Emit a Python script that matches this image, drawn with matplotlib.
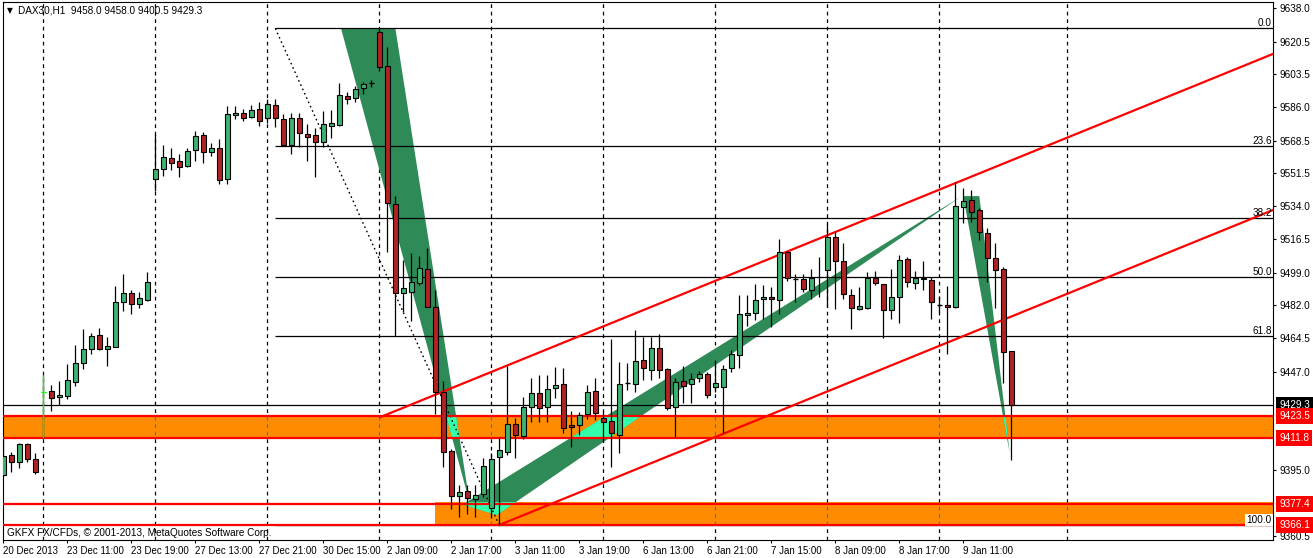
import numpy as np
import matplotlib.pyplot as plt
from matplotlib.patches import Polygon, Rectangle

plt.rcParams['font.family'] = ['Liberation Sans', 'DejaVu Sans']
plt.rcParams['font.size'] = 7.2

# DAX30 H1 candles, bar 0 = 20 Dec 2013 (last bar = 9 Jan)
opens = [9392.8, 9403.1, 9399.3, 9408.9, 9400.9, 9436.4, 9436.9, 9433.5, 9434.3, 9441.7,
         9451.3, 9458.7, 9466.1, 9458.7, 9460.1, 9483.4, 9488.2, 9482.4, 9484.8, 9548.4,
         9553.4, 9559.2, 9557.6, 9555.0, 9563.4, 9571.3, 9562.3, 9564.4, 9548.1, 9582.1,
         9582.8, 9580.7, 9585.1, 9580.2, 9587.1, 9579.7, 9566.3, 9580.2, 9571.8, 9571.3,
         9567.6, 9576.0, 9576.5, 9591.8, 9590.7, 9596.0, 9598.6, 9625.5, 9607.6, 9535.1,
         9488.5, 9488.7, 9493.4, 9500.8, 9480.8, 9436.4, 9405.2, 9381.4, 9384.0, 9379.8,
         9382.6, 9375.2, 9401.9, 9404.5, 9419.4, 9413.1, 9428.2, 9435.6, 9428.5, 9438.1,
         9440.5, 9418.9, 9418.9, 9424.5, 9436.8, 9422.4, 9421.2, 9413.6, 9440.8, 9440.5,
         9452.9, 9447.8, 9459.2, 9448.2, 9428.5, 9442.2, 9440.3, 9443.5, 9445.7, 9438.7,
         9439.0, 9448.7, 9455.7, 9476.6, 9477.6, 9485.0, 9486.1, 9484.6, 9509.7, 9495.8,
         9495.5, 9489.9, 9496.5, 9500.4, 9517.9, 9505.2, 9487.1, 9479.8, 9480.6, 9496.2,
         9492.9, 9479.4, 9486.4, 9506.1, 9493.4, 9495.5, 9495.2, 9482.0, 9482.0, 9480.8,
         9533.4, 9537.2, 9532.0, 9519.7, 9506.6, 9500.8, 9458.0]
highs = [9411.5, 9404.9, 9409.6, 9409.2, 9404.3, 9445.2, 9439.9, 9442.0, 9451.0, 9461.0,
         9469.4, 9467.1, 9470.1, 9465.2, 9492.0, 9498.3, 9489.9, 9488.9, 9499.4, 9571.8,
         9566.2, 9564.6, 9561.4, 9564.8, 9573.5, 9573.0, 9567.1, 9569.5, 9586.7, 9586.7,
         9585.0, 9587.4, 9589.0, 9590.5, 9590.4, 9582.3, 9582.8, 9582.8, 9577.2, 9575.1,
         9583.9, 9584.6, 9598.8, 9594.2, 9597.1, 9599.5, 9600.4, 9627.5, 9617.6, 9539.3,
         9505.7, 9509.2, 9507.8, 9511.8, 9489.9, 9442.0, 9406.3, 9387.3, 9387.3, 9387.3,
         9401.4, 9404.2, 9412.7, 9449.9, 9422.8, 9433.8, 9443.5, 9445.2, 9445.2, 9449.6,
         9448.7, 9426.3, 9425.9, 9439.9, 9443.5, 9425.7, 9464.0, 9452.0, 9451.3, 9468.9,
         9465.3, 9465.3, 9466.6, 9448.9, 9443.5, 9450.1, 9446.4, 9447.3, 9446.8, 9453.1,
         9450.5, 9458.3, 9487.3, 9487.3, 9493.1, 9492.5, 9491.3, 9516.6, 9510.4, 9498.3,
         9498.3, 9501.0, 9507.1, 9524.6, 9520.6, 9514.8, 9490.3, 9491.3, 9499.5, 9499.9,
         9493.0, 9500.8, 9508.3, 9507.1, 9499.9, 9505.2, 9496.6, 9486.7, 9492.0, 9546.9,
         9543.4, 9542.5, 9532.9, 9522.4, 9514.8, 9502.2, 9458.0]
lows = [9391.4, 9394.3, 9396.1, 9399.6, 9393.1, 9412.1, 9426.4, 9429.4, 9432.6, 9439.6,
        9448.2, 9456.1, 9458.2, 9450.1, 9459.9, 9479.0, 9477.4, 9480.6, 9484.3, 9542.1,
        9550.0, 9553.2, 9549.2, 9554.8, 9557.9, 9556.5, 9560.5, 9545.7, 9545.8, 9579.7,
        9579.0, 9580.5, 9576.2, 9577.6, 9575.6, 9565.8, 9561.3, 9565.3, 9557.9, 9549.5,
        9565.3, 9569.7, 9576.3, 9587.9, 9589.0, 9593.2, 9596.5, 9604.9, 9510.1, 9465.7,
        9478.5, 9473.8, 9492.5, 9480.8, 9424.5, 9396.6, 9374.6, 9370.7, 9371.9, 9370.3,
        9381.2, 9369.8, 9366.1, 9403.1, 9401.3, 9411.7, 9420.6, 9420.6, 9420.6, 9432.9,
        9414.5, 9407.5, 9413.6, 9421.9, 9421.5, 9410.1, 9396.6, 9404.0, 9437.3, 9436.3,
        9442.6, 9442.6, 9443.6, 9426.8, 9412.7, 9430.3, 9430.3, 9441.5, 9433.1, 9436.3,
        9414.5, 9446.8, 9448.7, 9471.0, 9474.1, 9474.5, 9470.6, 9477.1, 9494.6, 9483.8,
        9489.0, 9485.0, 9486.2, 9481.0, 9479.8, 9485.0, 9469.4, 9479.4, 9479.8, 9492.5,
        9464.5, 9474.5, 9472.4, 9491.6, 9490.3, 9489.9, 9474.5, 9478.3, 9456.2, 9480.3,
        9525.3, 9525.8, 9516.2, 9494.3, 9480.3, 9440.8, 9400.5]
closes = [9402.6, 9399.3, 9408.9, 9400.9, 9394.3, 9436.4, 9432.9, 9434.7, 9442.6, 9451.3,
          9458.9, 9465.7, 9458.7, 9460.4, 9483.4, 9488.2, 9482.7, 9485.5, 9494.0, 9553.4,
          9559.9, 9556.9, 9554.4, 9562.9, 9570.9, 9562.6, 9564.4, 9547.6, 9582.3, 9582.8,
          9580.2, 9584.4, 9578.6, 9587.6, 9580.2, 9566.0, 9580.2, 9572.3, 9570.2, 9567.6,
          9577.1, 9577.6, 9592.3, 9590.2, 9595.5, 9598.1, 9598.6, 9607.0, 9535.5, 9488.2,
          9490.8, 9494.0, 9501.3, 9481.1, 9436.4, 9404.5, 9381.7, 9383.5, 9380.3, 9382.2,
          9397.2, 9400.9, 9405.7, 9419.3, 9413.4, 9428.2, 9435.6, 9427.7, 9437.7, 9439.9,
          9417.2, 9417.7, 9424.2, 9436.1, 9425.0, 9420.6, 9414.5, 9440.5, 9440.8, 9452.6,
          9448.7, 9459.2, 9447.8, 9427.7, 9441.7, 9439.4, 9442.9, 9445.7, 9434.7, 9440.8,
          9448.2, 9456.1, 9477.1, 9477.6, 9484.6, 9486.4, 9485.0, 9510.1, 9496.4, 9495.8,
          9490.3, 9496.1, 9497.0, 9517.6, 9505.0, 9487.6, 9480.3, 9481.5, 9496.2, 9493.4,
          9479.4, 9486.1, 9505.5, 9494.0, 9496.1, 9496.1, 9483.4, 9482.0, 9480.8, 9534.1,
          9536.7, 9531.1, 9520.3, 9506.6, 9500.4, 9457.5, 9429.3]

time_labels = ['20 Dec 2013', '23 Dec 11:00', '23 Dec 19:00', '27 Dec 13:00', '27 Dec 21:00',
               '30 Dec 15:00', '2 Jan 09:00', '2 Jan 17:00', '3 Jan 11:00', '3 Jan 19:00',
               '6 Jan 13:00', '6 Jan 21:00', '7 Jan 15:00', '8 Jan 09:00', '8 Jan 17:00',
               '9 Jan 11:00']
label_bars = [0, 8, 16, 24, 32, 40, 48, 56, 64, 72, 80, 88, 96, 104, 112, 120]
grid_bars = [5, 19, 33, 47, 61, 75, 89, 103, 117, 133]
price_ticks = [9638.0, 9620.5, 9603.5, 9586.0, 9568.5, 9551.5, 9534.0, 9516.5, 9499.0,
               9482.0, 9464.5, 9447.0, 9395.0, 9360.5]

# fibonacci retracement (anchor bars / prices)
fib_bars = [34, 62]
fib_prices = [9627.5, 9366.1]
fib_levels = [0.0, 23.6, 38.2, 50.0, 61.8, 100.0]

# zones and levels
zone_upper = [9411.8, 9423.5]
zone_lower = [9366.1, 9378.4]
zone_lower_start = 54
red_levels = [9423.5, 9411.8, 9377.4, 9366.1]
bid = 9429.3

# channel lines (bar, price endpoints)
upper_channel_x = [47.1, 160]
upper_channel_y = [9423.0, 9616.3]
lower_channel_x = [62.0, 160]
lower_channel_y = [9366.3, 9534.2]

# pattern triangles: (bar, price) vertices
tri_xa = [(42.2, 9627.7), (49.0, 9627.7), (58.3, 9377.9)]
tri_ab = [(57.4, 9377.0), (61.7, 9371.5), (119.7, 9539.0)]
tri_bc = [(120.0, 9539.3), (122.0, 9539.3), (125.8, 9404.1)]

GREEN = '#3CB371'
RED = '#B22222'
SEA = '#2E8B57'
AQUA = '#33FFAA'
ORANGE = '#FF8C00'

fig = plt.figure(figsize=(13.13, 5.58), dpi=100)
ax = fig.add_axes([3 / 1313, 18 / 558, 1270 / 1313, 538 / 558])
ax.set_xlim(-0.04, 158.71)
ax.set_ylim(9358.4, 9641.4)

# grid
for gb in grid_bars:
    ax.axvline(gb, color='black', lw=0.9, ls=(0, (3, 3)), zorder=0.5)

# orange zones
zu = ax.add_patch(Rectangle((-5, zone_upper[0]), 200, zone_upper[1] - zone_upper[0],
                            fc=ORANGE, ec='none', zorder=1))
zl = ax.add_patch(Rectangle((zone_lower_start, zone_lower[0]), 200, zone_lower[1] - zone_lower[0],
                            fc=ORANGE, ec='none', zorder=1))
for z in (zu, zl):
    for gb in grid_bars:
        gl = ax.axvline(gb, color='#4F6FA8', lw=0.9, ls=(0, (3, 3)), zorder=1.05)
        gl.set_clip_path(z)

# pattern triangles, lighter where they cross the zones
for tri in (tri_xa, tri_ab, tri_bc):
    ax.add_patch(Polygon(tri, closed=True, fc=SEA, ec='none', zorder=2))
    for z in (zu, zl):
        p = ax.add_patch(Polygon(tri, closed=True, fc=AQUA, ec='none', zorder=2.1))
        p.set_clip_path(z)

# fibo
fib_hi, fib_lo = fib_prices
fib_vals = [fib_hi - lv / 100 * (fib_hi - fib_lo) for lv in fib_levels]
ax.hlines(fib_vals, fib_bars[0], 170, color='black', lw=0.9, zorder=3)
ax.plot(fib_bars, fib_prices, color='black', lw=1.0, ls=(0, (1.2, 2.2)), zorder=3)
for lv, v in zip(fib_levels, fib_vals):
    box = dict(boxstyle='square,pad=0.1', fc='white', ec='none') if lv == 100.0 else None
    ax.annotate(f'{lv:.1f}', xy=(158.55, v), xytext=(0, 2), textcoords='offset pixels',
                ha='right', va='baseline', bbox=box, zorder=6)

# levels and channel
ax.axhline(bid, color='black', lw=0.9, zorder=3)
for lvl in red_levels:
    ax.axhline(lvl, color='#FF0000', lw=1.6, zorder=3.2)
ax.plot(upper_channel_x, upper_channel_y, color='#FF0000', lw=1.6, zorder=3.2)
ax.plot(lower_channel_x, lower_channel_y, color='#FF0000', lw=1.6, zorder=3.2)

# candles
bars = np.arange(len(opens))
o = np.array(opens)
c = np.array(closes)
ax.vlines(bars, lows, highs, color='black', lw=0.9, zorder=4.9)
up = c > o
dn = c < o
ax.bar(bars[up], (c - o)[up], bottom=o[up], width=0.56, color=GREEN,
       edgecolor='black', linewidth=0.8, zorder=5)
ax.bar(bars[dn], (o - c)[dn], bottom=c[dn], width=0.56, color=RED,
       edgecolor='black', linewidth=0.8, zorder=5)
for i in bars[c == o]:
    col = '#00FF00' if i == 5 else 'black'
    if i == 5:
        ax.vlines(i, lows[i], highs[i], color=col, lw=0.9, zorder=5)
    ax.hlines(o[i], i - 0.3, i + 0.3, color=col, lw=1.0, zorder=5)

# axes styling
ax.yaxis.tick_right()
ax.set_yticks(price_ticks)
ax.set_yticklabels([f'{p:.1f}' for p in price_ticks])
ax.tick_params(axis='y', direction='out', length=2.5, width=0.8, pad=2.5)
ax.set_xticks(label_bars)
ax.set_xticklabels(time_labels, ha='left', fontsize=7.0)
ax.tick_params(axis='x', direction='out', length=2.5, width=0.8, pad=2)
for s in ax.spines.values():
    s.set_linewidth(0.8)

# price tags on the right axis
tags = [(bid, 'black'), (9423.5, '#FF0000'), (9411.8, '#FF0000'),
        (9377.4, '#FF0000'), (9366.1, '#FF0000')]
for v, fc in tags:
    ax.annotate(f'{v:.1f}', xy=(1, v), xycoords=ax.get_yaxis_transform(), xytext=(6, 0),
                textcoords='offset pixels', ha='left', va='center', color='white',
                bbox=dict(boxstyle='square,pad=0.3', fc=fc, ec='none'), annotation_clip=False)

fig.text(7 / 1313, 1 - 10.5 / 558, '\u25bc', fontsize=5.5, va='center', family=['DejaVu Sans'])
fig.text(18 / 1313, 1 - 10.7 / 558, 'DAX30,H1  9458.0 9458.0 9400.5 9429.3', va='center')
fig.text(7 / 1313, 1 - 532.7 / 558, 'GKFX FX/CFDs, \u00a9 2001-2013, MetaQuotes Software Corp.',
         va='center')

fig.savefig('out.png', dpi=100)
